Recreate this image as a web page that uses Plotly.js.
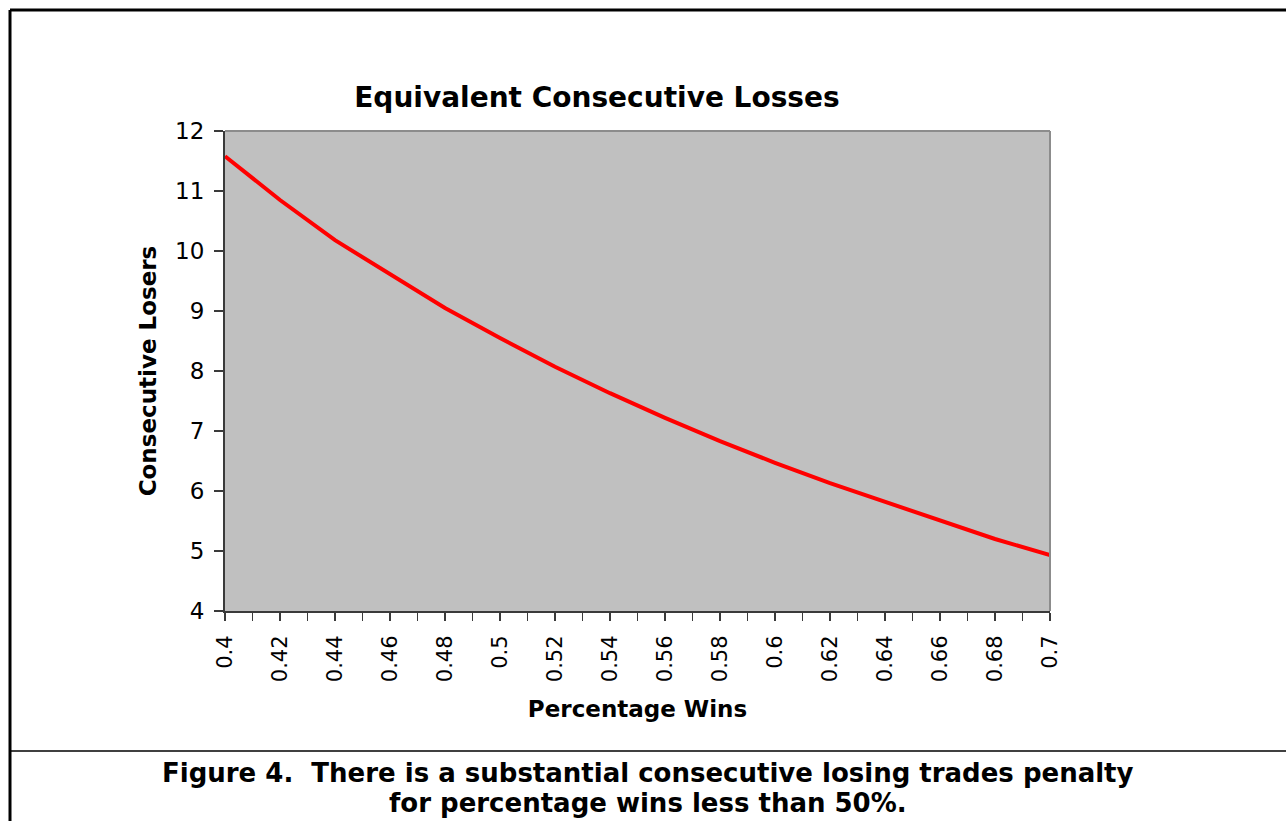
<!DOCTYPE html>
<html>
<head>
<meta charset="utf-8">
<script src="https://cdn.plot.ly/plotly-3.0.1.min.js"></script>
<style>html,body{margin:0;padding:0;background:#fff;}#chart{width:1286px;height:821px;}</style>
</head>
<body>
<div id="chart"></div>
<script>
// Data
const percentageWins = [0.40, 0.42, 0.44, 0.46, 0.48, 0.50, 0.52, 0.54, 0.56, 0.58, 0.60, 0.62, 0.64, 0.66, 0.68, 0.70];
const consecutiveLosers = [11.58, 10.85, 10.18, 9.62, 9.05, 8.55, 8.07, 7.63, 7.22, 6.83, 6.47, 6.13, 5.82, 5.50, 5.20, 4.93];
const xTickVals = [0.4, 0.42, 0.44, 0.46, 0.48, 0.5, 0.52, 0.54, 0.56, 0.58, 0.6, 0.62, 0.64, 0.66, 0.68, 0.7];
const xTickText = ["0.4", "0.42", "0.44", "0.46", "0.48", "0.5", "0.52", "0.54", "0.56", "0.58", "0.6", "0.62", "0.64", "0.66", "0.68", "0.7"];
const yTickVals = [4, 5, 6, 7, 8, 9, 10, 11, 12];

const chartTitle = "Equivalent Consecutive Losses";
const xTitle = "Percentage Wins";
const yTitle = "Consecutive Losers";
const captionLine1 = "Figure 4.  There is a substantial consecutive losing trades penalty";
const captionLine2 = "for percentage wins less than 50%.";

const FONT = "DejaVu Sans, Arial, sans-serif";
const axisDark = "#3a3a3a";

const trace = {
  x: percentageWins,
  y: consecutiveLosers,
  type: "scatter",
  mode: "lines",
  line: {color: "#ff0000", width: 4},
  hoverinfo: "x+y"
};

const layout = {
  width: 1286,
  height: 821,
  margin: {l: 225, r: 236, t: 131, b: 210, pad: 0},
  paper_bgcolor: "#ffffff",
  plot_bgcolor: "#c0c0c0",
  showlegend: false,
  font: {family: FONT, color: "#000"},
  title: {
    text: "<b>" + chartTitle + "</b>",
    font: {family: FONT, size: 28, color: "#000"},
    xref: "container", yref: "container",
    x: 0.4642, xanchor: "center",
    y: 0.8819, yanchor: "middle"
  },
  xaxis: {
    range: [0.4, 0.7],
    tickmode: "array",
    tickvals: xTickVals,
    ticktext: xTickText,
    tickangle: -90,
    ticks: "outside",
    ticklen: 8,
    tickwidth: 1.5,
    tickcolor: axisDark,
    ticklabelstandoff: 6,
    minor: {dtick: 0.01, tick0: 0.4, ticks: "outside", ticklen: 8, tickwidth: 1.5, tickcolor: axisDark, showgrid: false},
    showline: true,
    linecolor: axisDark,
    linewidth: 2,
    showgrid: false,
    zeroline: false,
    tickfont: {family: FONT, size: 21, color: "#000"},
    title: {text: "<b>" + xTitle + "</b>", font: {family: FONT, size: 23, color: "#000"}, standoff: 20}
  },
  yaxis: {
    range: [4, 12],
    tickmode: "array",
    tickvals: yTickVals,
    ticks: "outside",
    ticklen: 9,
    tickwidth: 1.5,
    tickcolor: axisDark,
    ticklabelstandoff: 5,
    showline: true,
    linecolor: axisDark,
    linewidth: 2,
    showgrid: false,
    zeroline: false,
    tickfont: {family: FONT, size: 23, color: "#000"},
    title: {text: "<b>" + yTitle + "</b>", font: {family: FONT, size: 23, color: "#000"}, standoff: 12}
  },
  shapes: [
    // gray plot border (top & right)
    {type: "line", xref: "paper", yref: "paper", x0: 0, x1: 1, y0: 1, y1: 1, line: {color: "#8c8c8c", width: 2}},
    {type: "line", xref: "paper", yref: "paper", x0: 1, x1: 1, y0: 0, y1: 1, line: {color: "#8c8c8c", width: 2}},
    // outer figure frame
    {type: "line", xref: "paper", yref: "paper", x0: -0.2606, x1: 1.29, y0: 1.2521, y1: 1.2521, line: {color: "#000", width: 3}},
    {type: "line", xref: "paper", yref: "paper", x0: -0.2606, x1: -0.2606, y0: 1.2521, y1: -0.44, line: {color: "#000", width: 3}},
    {type: "line", xref: "paper", yref: "paper", x0: -0.2606, x1: 1.29, y0: -0.2917, y1: -0.2917, line: {color: "#000", width: 1.5}}
  ],
  annotations: [
    {
      text: "<b>" + captionLine1 + "</b>",
      xref: "paper", yref: "paper",
      x: 0.5127, y: -0.3375,
      xanchor: "center", yanchor: "middle",
      showarrow: false,
      font: {family: FONT, size: 26, color: "#000"}
    },
    {
      text: "<b>" + captionLine2 + "</b>",
      xref: "paper", yref: "paper",
      x: 0.5127, y: -0.4,
      xanchor: "center", yanchor: "middle",
      showarrow: false,
      font: {family: FONT, size: 26, color: "#000"}
    }
  ]
};

Plotly.newPlot("chart", [trace], layout, {displayModeBar: false, staticPlot: true});
</script>
</body>
</html>
